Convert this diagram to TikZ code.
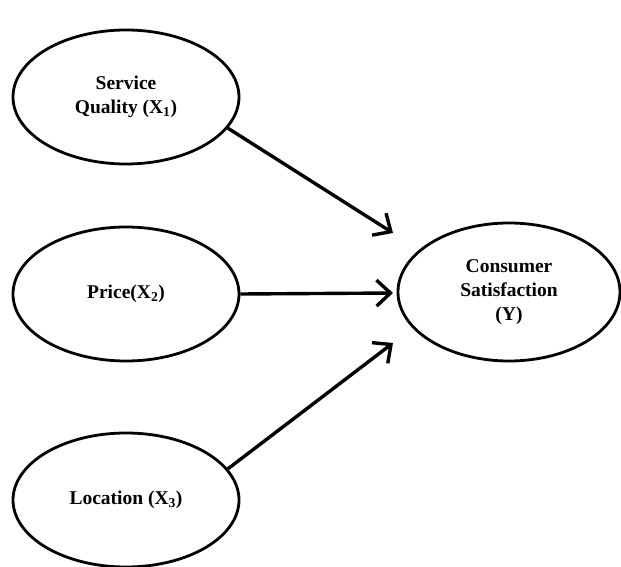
\documentclass[tikz,border=0pt]{standalone}
\usepackage{fontspec}
\setmainfont{Liberation Serif}
\usetikzlibrary{shapes.geometric,arrows.meta}
\begin{document}
\begin{tikzpicture}[x=1pt,y=-1pt,
  oval/.style={ellipse,draw,line width=2.8pt,fill=white,inner sep=0pt,
    minimum width=226pt,minimum height=134pt,align=center,
    font=\fontsize{19.5}{24}\selectfont\bfseries},
  link/.style={line width=3.4pt,-{Straight Barb[length=14pt,width=26pt,line width=3.4pt]}}]
\useasboundingbox (0,0) rectangle (621,567);
\fill[white] (0,0) rectangle (621,567);
\node[oval] (e1) at (126,97) {Service\\Quality (X\textsubscript{1})};
\node[oval] (e2) at (126,294) {Price(X\textsubscript{2})};
\node[oval] (e3) at (126,500) {Location (X\textsubscript{3})};
\node[oval,minimum width=222pt,minimum height=138pt] (y) at (509,292) {Consumer\\Satisfaction\\(Y)};
\coordinate (t1) at (393,233);
\coordinate (t2) at (393,293);
\coordinate (t3) at (393,343);
\draw[link] (e1.-17) -- (t1);
\draw[link] (e2.east) -- (t2);
\draw[link] (e3.17) -- (t3);
\end{tikzpicture}
\end{document}
